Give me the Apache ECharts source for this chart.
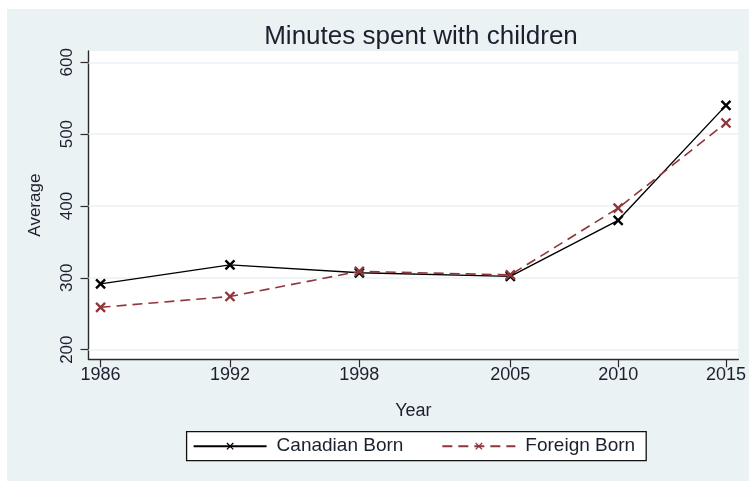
<!DOCTYPE html>
<html>
<head>
<meta charset="utf-8">
<script src="https://cdn.jsdelivr.net/npm/echarts@6/dist/echarts.min.js"></script>
<style>
  html, body { margin: 0; padding: 0; background: #ffffff; }
  #chart { width: 749px; height: 481px; }
</style>
</head>
<body>
<div id="chart"></div>
<script>
// Survey years and average minutes per day spent with children
const years = [1986, 1992, 1998, 2005, 2010, 2015];
const canadianBorn = [291.5, 318, 307, 302, 380, 540];
const foreignBorn = [259, 274, 309, 304, 397, 515.5];
const yTicks = [200, 300, 400, 500, 600];

const FONT = '"Liberation Sans", Arial, sans-serif';
const TEXT = '#1b1f2e';

// Stata-like "x" marker drawn as a stroked path
const crossPath = 'path://M0,0 L10,10 M10,0 L0,10';

const pairs = (vals) => years.map((y, i) => [y, vals[i]]);

const chart = echarts.init(document.getElementById('chart'), null, { renderer: 'canvas' });

chart.setOption({
  animation: false,
  backgroundColor: '#ffffff',
  graphic: [
    {
      type: 'rect', z: -10, silent: true,
      shape: { x: 7, y: 9, width: 742, height: 472 },
      style: { fill: '#eaf2f3' }
    }
  ],
  title: {
    text: 'Minutes spent with children',
    left: 416, top: 19, textAlign: 'center',
    textStyle: { fontFamily: FONT, fontSize: 26, fontWeight: 'normal', color: TEXT }
  },
  grid: {
    left: 88.5, right: 6, top: 51, bottom: 121.7,
    show: true, backgroundColor: '#ffffff', borderWidth: 0
  },
  xAxis: {
    type: 'value',
    min: 1985.44, max: 2015.57,
    name: 'Year', nameLocation: 'middle', nameGap: 43,
    nameTextStyle: { fontFamily: FONT, fontSize: 18, color: TEXT },
    axisLine: { show: true, onZero: false, lineStyle: { color: '#2a2a2a', width: 1.4 } },
    axisTick: { show: true, length: 8, customValues: years, lineStyle: { color: '#2a2a2a', width: 1.2 } },
    axisLabel: { customValues: years, fontFamily: FONT, fontSize: 18, color: TEXT, margin: 7,
                 formatter: (v) => String(v) },
    splitLine: { show: false }
  },
  yAxis: {
    type: 'value',
    min: 186.6, max: 615.7,
    name: 'Average', nameLocation: 'middle', nameGap: 45, nameRotate: 90,
    nameTextStyle: { fontFamily: FONT, fontSize: 17, color: TEXT },
    axisLine: { show: true, onZero: false, lineStyle: { color: '#2a2a2a', width: 1.4 } },
    axisTick: { show: true, length: 8, customValues: yTicks, lineStyle: { color: '#2a2a2a', width: 1.2 } },
    axisLabel: { customValues: yTicks, rotate: 90, fontFamily: FONT, fontSize: 17, color: TEXT, margin: 13 },
    splitLine: { show: false }
  },
  legend: {
    left: 186.6, top: 431.7,
    padding: [5, 11, 5, 6],
    backgroundColor: '#ffffff', borderColor: '#111111', borderWidth: 1.3,
    itemWidth: 73, itemHeight: 8, itemGap: 38,
    itemStyle: { borderWidth: 1.3 },
    textStyle: { fontFamily: FONT, fontSize: 19, color: TEXT, padding: [0, 0, 0, 5] },
    data: ['Canadian Born', 'Foreign Born']
  },
  series: [
    {
      name: 'Canadian Born',
      type: 'line',
      data: pairs(canadianBorn),
      symbol: crossPath, symbolSize: 9,
      lineStyle: { color: '#000000', width: 1.4 },
      itemStyle: { color: '#000000', borderColor: '#000000', borderWidth: 2.4 },
      z: 3,
      markLine: {
        silent: true, symbol: 'none', label: { show: false },
        lineStyle: { color: '#eaf2f3', width: 1.5, type: 'solid' },
        data: yTicks.map((v) => ({ yAxis: v })),
        z: 1
      }
    },
    {
      name: 'Foreign Born',
      type: 'line',
      data: pairs(foreignBorn),
      symbol: crossPath, symbolSize: 9,
      lineStyle: { color: '#90353b', width: 1.6, type: [10, 6] },
      itemStyle: { color: '#90353b', borderColor: '#90353b', borderWidth: 2.4 },
      z: 4
    }
  ]
});
</script>
</body>
</html>
